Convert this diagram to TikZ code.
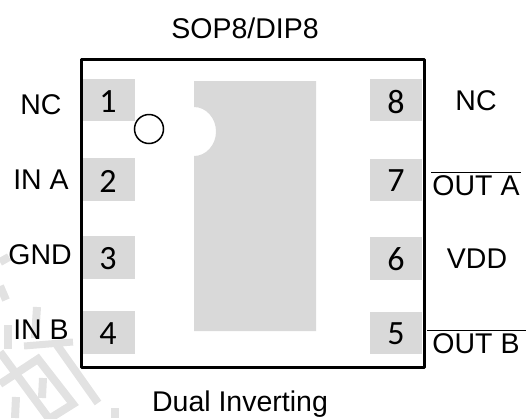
\documentclass[tikz,border=0pt]{standalone}
\usepackage{fontspec}
\setmainfont{Liberation Sans}
\newfontfamily\digitfont{Carlito}
\definecolor{padgrey}{HTML}{D9D9D9}
\definecolor{wmgrey}{HTML}{E2E2E2}
\tikzset{
  lab/.style={inner sep=0pt,font=\fontsize{28.5}{28.5}\selectfont},
  num/.style={inner sep=0pt,font=\digitfont\fontsize{34}{34}\selectfont},
  wm/.style={draw=wmgrey,line width=8pt,line cap=butt,line join=miter}
}
\begin{document}
\begin{tikzpicture}[x=1pt,y=-1pt]
\useasboundingbox (0,0) rectangle (526,418);
% faint watermark strokes
\begin{scope}
\clip (0,0) rectangle (526,418);
\draw[wm] (0,262) -- (9,257);
\draw[wm] (0,286) -- (6,300);
\draw[wm] (8,325) -- (8,349);
\draw[wm] (37,307) -- (35,338);
\draw[wm,line width=7pt] (24,346) -- (73,342);
\draw[wm] (57,345) -- (98,403);
\draw[wm] (0,384) -- (38,359) -- (73,404) -- (49,419);
\draw[wm] (0,352) -- (50,420);
\draw[wm] (43,378) -- (42,398);
\draw[wm] (16,397) -- (15,418);
\draw[wm] (115,408) -- (115,418);
\end{scope}
% pads
\fill[padgrey] (83,79) rectangle (135,121);
\fill[padgrey] (83,158) rectangle (135,201);
\fill[padgrey] (83,236) rectangle (135,279);
\fill[padgrey] (83,311) rectangle (135,354);
\fill[padgrey] (370,79) rectangle (422,121);
\fill[padgrey] (370,159) rectangle (422,201);
\fill[padgrey] (370,237) rectangle (422,280);
\fill[padgrey] (370,312) rectangle (422,354);
% thermal pad with notch
\fill[padgrey] (194,81) -- (316,81) -- (316,331) -- (194,331) -- (194,156)
  .. controls (206,156) and (216,145) .. (216,131.5)
  .. controls (216,118) and (206,107) .. (194,107) -- cycle;
% frame
\draw[line width=3pt,line join=round] (81,59) rectangle (424,367);
\node[draw,circle,line width=1.5pt,minimum size=29pt,inner sep=0pt] (dot) at (149,129) {};
% pin numbers
\node[num] (n1) at (108,102) {1};
\node[num] (n2) at (108,181) {2};
\node[num] (n3) at (108,259) {3};
\node[num] (n4) at (108,334) {4};
\node[num] (n8) at (396,102) {8};
\node[num] (n7) at (396,181) {7};
\node[num] (n6) at (396,259) {6};
\node[num] (n5) at (396,334) {5};
% labels
\node[lab] (title) at (245,28) {SOP8/DIP8};
\node[lab] (ln1) at (41,105) {NC};
\node[lab] (ln2) at (41,180) {IN A};
\node[lab] (ln3) at (40,255) {GND};
\node[lab] (ln4) at (41,330) {IN B};
\node[lab] (rn8) at (476,101) {NC};
\node[lab] (rn7) at (476,186) {OUT A};
\node[lab] (rn6) at (477,259) {VDD};
\node[lab] (rn5) at (476,344) {OUT B};
\node[lab] (foot) at (240,404) {Dual Inverting};
\draw[line width=1pt] (431,172.5) -- (521,172.5);
\draw[line width=1pt] (427,330.5) -- (526,330.5);
\end{tikzpicture}
\end{document}
